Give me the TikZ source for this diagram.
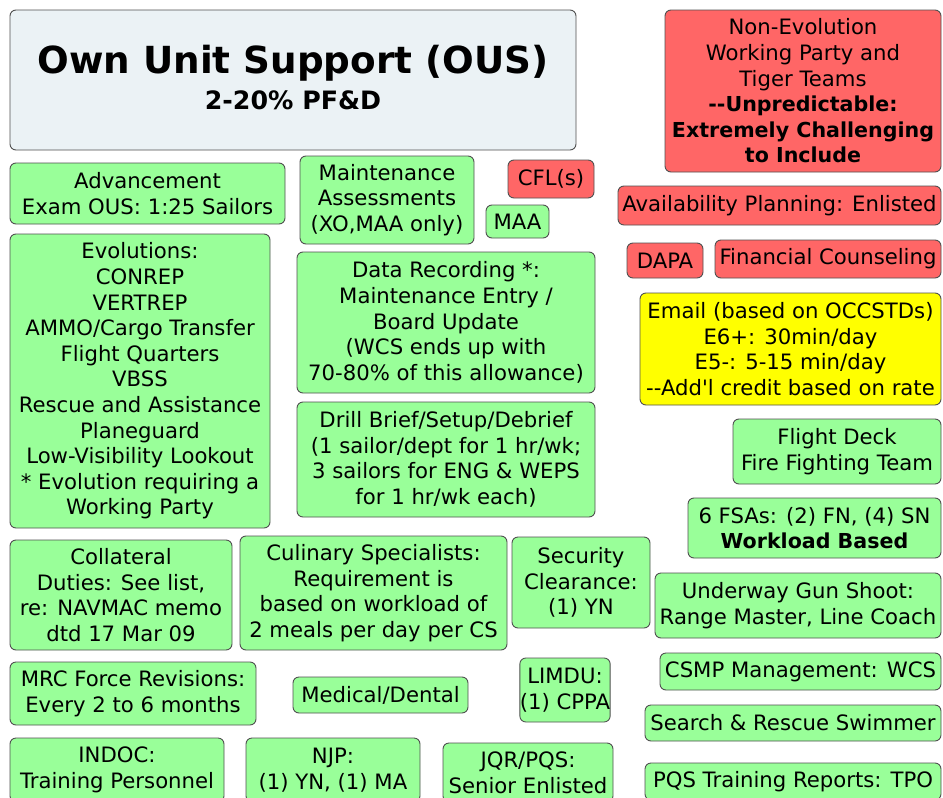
\documentclass[tikz,border=0pt]{standalone}
\usepackage{fontspec}
\setmainfont{DejaVu Sans}[Ligatures=TeXOff]
\definecolor{gfill}{RGB}{153,255,153}
\definecolor{rfill}{RGB}{255,102,102}
\definecolor{yfill}{RGB}{255,255,0}
\definecolor{tfill}{RGB}{235,242,245}
\definecolor{edge}{RGB}{80,80,80}
\tikzset{
  box/.style={draw=edge, line width=0.9pt, rounded corners=6pt, align=center,
    inner sep=0pt, text=black, font=\fontsize{21.2}{25.6}\selectfont},
  gbox/.style={box, fill=gfill},
  rbox/.style={box, fill=rfill},
  ybox/.style={box, fill=yfill},
  tbox/.style={box, fill=tfill},
}
% box from corner (x1,y1) to (x2,y2), y measured downwards
\newcommand\bx[7]{\node[#2, minimum width={#5-#3}, minimum height={#6-#4}]
  (#1) at ({(#3+#5)/2},{(#4+#6)/2}) {#7};}
\newcommand\bsmall[1]{{\fontsize{20.6}{25.6}\selectfont\bfseries #1}}
\begin{document}
\begin{tikzpicture}[x=1pt,y=-1pt]
\path[use as bounding box] (0,0) rectangle (943,798);
\fill[white] (0,0) rectangle (943,798);
\clip (0,0) rectangle (943,798);

% header
\bx{title}{tbox}{10}{10}{576}{150}{}
\node[font=\fontsize{37.3}{40}\selectfont\bfseries] (titleA) at (293,63) {Own Unit Support (OUS)};
\node[font=\fontsize{25.3}{30}\selectfont\bfseries] (titleB) at (293,100) {2-20\% PF\&D};

% red items
\bx{nonevo}{rbox}{665}{10}{941}{172}{Non-Evolution\\Working Party and\\Tiger Teams\\\bsmall{--Unpredictable:}\\\bsmall{Extremely Challenging}\\\bsmall{to Include}}
\bx{cfl}{rbox}{508}{160}{594}{198}{CFL(s)}
\bx{avail}{rbox}{618}{186}{941}{225}{Availability Planning: Enlisted}
\bx{dapa}{rbox}{627}{243}{703}{278}{DAPA}
\bx{fin}{rbox}{715}{240}{941}{278}{Financial Counseling}

% yellow item
\bx{email}{ybox}{640}{293}{941}{405}{Email (based on OCCSTDs)\\E6+: 30min/day\\E5-: 5-15 min/day\\--Add'l credit based on rate}

% green items, left column
\bx{adv}{gbox}{10}{163}{285}{224}{Advancement\\Exam OUS: 1:25 Sailors}
\bx{evo}{gbox}{10}{234}{270}{528}{Evolutions:\\CONREP\\VERTREP\\AMMO/Cargo Transfer\\Flight Quarters\\VBSS\\Rescue and Assistance\\Planeguard\\Low-Visibility Lookout\\* Evolution requiring a\\Working Party}
\bx{coll}{gbox}{10}{540}{232}{650}{Collateral\\Duties: See list,\\re: NAVMAC memo\\dtd 17 Mar 09}
\bx{mrc}{gbox}{10}{662}{256}{725}{MRC Force Revisions:\\Every 2 to 6 months}
\bx{indoc}{gbox}{10}{738}{224}{802}{INDOC:\\Training Personnel}

% green items, middle
\bx{maint}{gbox}{300}{156}{474}{244}{Maintenance\\Assessments\\(XO,MAA only)}
\bx{maa}{gbox}{486}{205}{549}{238}{MAA}
\bx{data}{gbox}{297}{252}{595}{393}{Data Recording *:\\Maintenance Entry /\\Board Update\\(WCS ends up with\\70-80\% of this allowance)}
\bx{drill}{gbox}{297}{402}{595}{517}{Drill Brief/Setup/Debrief\\(1 sailor/dept for 1 hr/wk;\\3 sailors for ENG \& WEPS\\for 1 hr/wk each)}
\bx{cul}{gbox}{240}{536}{507}{650}{Culinary Specialists:\\Requirement is\\based on workload of\\2 meals per day per CS}
\bx{sec}{gbox}{512}{537}{650}{628}{Security\\Clearance:\\(1) YN}
\bx{med}{gbox}{293}{677}{468}{713}{Medical/Dental}
\bx{limdu}{gbox}{520}{658}{610}{722}{LIMDU:\\(1) CPPA}
\bx{njp}{gbox}{246}{738}{420}{802}{NJP:\\(1) YN, (1) MA}
\bx{jqr}{gbox}{443}{743}{613}{802}{JQR/PQS:\\Senior Enlisted}

% green items, right column
\bx{fdeck}{gbox}{733}{419}{941}{484}{Flight Deck\\Fire Fighting Team}
\bx{fsa}{gbox}{688}{498}{941}{558}{6 FSAs: (2) FN, (4) SN\\\bsmall{Workload Based}}
\bx{gun}{gbox}{655}{573}{941}{638}{Underway Gun Shoot:\\Range Master, Line Coach}
\bx{csmp}{gbox}{660}{653}{941}{690}{CSMP Management: WCS}
\bx{sar}{gbox}{645}{705}{941}{741}{Search \& Rescue Swimmer}
\bx{pqs}{gbox}{645}{763}{941}{800}{PQS Training Reports: TPO}
\end{tikzpicture}
\end{document}
